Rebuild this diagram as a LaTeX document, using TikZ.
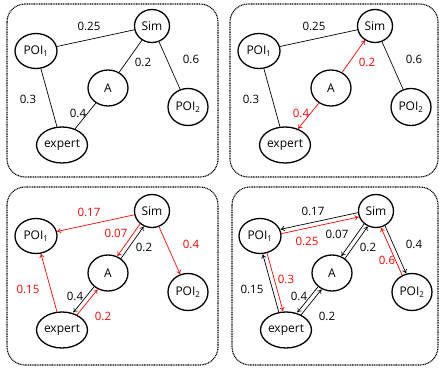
\documentclass[tikz,border=0pt]{standalone}
\usepackage{fontspec}
\setmainfont{Open Sans}
\usetikzlibrary{shapes.geometric,calc,arrows.meta}
\tikzset{
 vtx/.style={ellipse,draw,line width=1.3pt,inner sep=0pt,minimum width=40pt,minimum height=36pt,font=\fontsize{12}{13}\selectfont},
 wt/.style={inner sep=0pt,font=\fontsize{11.5}{12}\selectfont},
 rw/.style={wt,text=red},
 edge/.style={line width=0.7pt},
 arr/.style={edge,-{To[length=4pt,width=5pt]}},
 panelbox/.style={rounded corners=18pt,line width=1.1pt,dash pattern=on 1pt off 0.7pt},
}
\newcommand\offarrow[4][]{%
 \path (#2) -- (#3) coordinate[pos=0] (tmps) coordinate[pos=1] (tmpe);
 \draw[arr,#1] ($(tmps)!#4!90:(tmpe)$) -- ($(tmpe)!#4!-90:(tmps)$);
}
\newcommand\graphnodes{%
 \node[vtx,minimum width=35pt,minimum height=33pt] (Sim) at (152,26) {Sim};
 \node[vtx,minimum width=42pt,minimum height=35pt] (POI1) at (36,51) {POI\textsubscript{1}};
 \node[vtx] (A) at (108,88) {A};
 \node[vtx,minimum height=37pt] (POI2) at (188,107) {POI\textsubscript{2}};
 \node[vtx] (expert) at (62,145) {expert};
}
\begin{document}
\begin{tikzpicture}[x=1pt,y=-1pt]
\useasboundingbox (0,0) rectangle (439,367);
\draw[panelbox] (7,4) rectangle (218,177);
\draw[panelbox] (230,4) rectangle (438,177);
\draw[panelbox] (7,187) rectangle (218,365);
\draw[panelbox] (232,187) rectangle (438,365);
% panel 1
\begin{scope}[name prefix=p1-]
 \graphnodes
 \draw[edge] (POI1) -- (Sim);
 \draw[edge] (Sim) -- (A);
 \draw[edge] (Sim) -- (POI2);
 \draw[edge] (POI1) -- (expert);
 \draw[edge] (A) -- (expert);
 \node[wt] (l1) at (89,26) {0.25};
 \node[wt] (l2) at (143,62) {0.2};
 \node[wt] (l3) at (191,59) {0.6};
 \node[wt] (l4) at (28,99) {0.3};
 \node[wt] (l5) at (78,113) {0.4};
\end{scope}
% panel 2
\begin{scope}[shift={(223,0)},name prefix=p2-]
 \graphnodes
 \draw[edge] (POI1) -- (Sim);
 \draw[arr,red] (A) -- (Sim);
 \draw[edge] (Sim) -- (POI2);
 \draw[edge] (POI1) -- (expert);
 \draw[arr,red] (A) -- (expert);
 \node[wt] (l1) at (91,26) {0.25};
 \node[rw] (l2) at (144,62) {0.2};
 \node[wt] (l3) at (191,59) {0.6};
 \node[wt] (l4) at (28,99) {0.3};
 \node[rw] (l5) at (78,113) {0.4};
\end{scope}
% panel 3
\begin{scope}[shift={(0,185)},name prefix=p3-]
 \graphnodes
 \draw[arr,red] (Sim) -- (POI1);
 \offarrow[red]{Sim}{A}{-2.2pt}
 \offarrow{A}{Sim}{-2.2pt}
 \draw[arr,red] (Sim) -- (POI2);
 \draw[arr,red] (expert) -- (POI1);
 \offarrow{A}{expert}{-2.2pt}
 \offarrow[red]{expert}{A}{-2.2pt}
 \node[rw] (l1) at (89,27) {0.17};
 \node[rw] (l2) at (116,48) {0.07};
 \node[wt] (l3) at (144,62) {0.2};
 \node[rw] (l4) at (191,59) {0.4};
 \node[rw] (l5) at (28,104) {0.15};
 \node[wt] (l6) at (75,111) {0.4};
 \node[rw] (l7) at (103,131) {0.2};
\end{scope}
% panel 4
\begin{scope}[shift={(224,185)},name prefix=p4-]
 \graphnodes
 \offarrow{Sim}{POI1}{-2.2pt}
 \offarrow[red]{POI1}{Sim}{-2.2pt}
 \offarrow{Sim}{A}{-2.2pt}
 \offarrow{A}{Sim}{-2.2pt}
 \offarrow{Sim}{POI2}{2.2pt}
 \offarrow[red]{POI2}{Sim}{2.2pt}
 \offarrow{expert}{POI1}{2.2pt}
 \offarrow[red]{POI1}{expert}{2.2pt}
 \offarrow{A}{expert}{-2.2pt}
 \offarrow{expert}{A}{-2.2pt}
 \node[wt] (l1) at (89,26) {0.17};
 \node[rw] (l2) at (83,56) {0.25};
 \node[wt] (l3) at (113,49) {0.07};
 \node[wt] (l4) at (144,62) {0.2};
 \node[wt] (l5) at (190,59) {0.4};
 \node[rw] (l6) at (163,75) {0.6};
 \node[rw] (l7) at (62,94) {0.3};
 \node[wt] (l8) at (28,104) {0.15};
 \node[wt] (l9) at (75,111) {0.4};
 \node[wt] (l10) at (103,131) {0.2};
\end{scope}
\end{tikzpicture}
\end{document}
